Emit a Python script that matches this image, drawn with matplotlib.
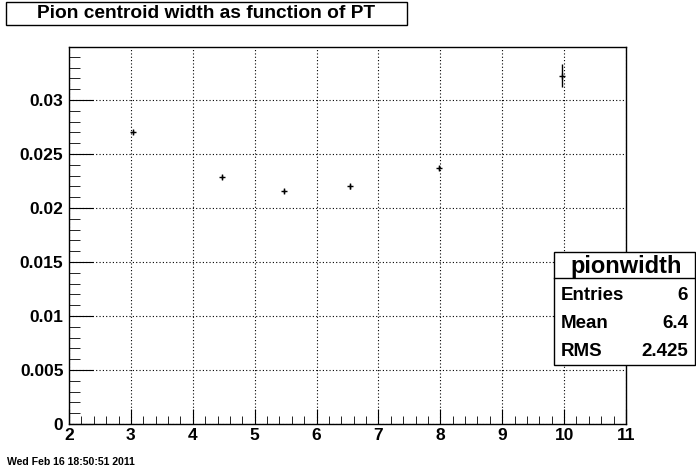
import matplotlib
matplotlib.use('Agg')
import matplotlib.pyplot as plt
from matplotlib.patches import Rectangle
from matplotlib.ticker import MultipleLocator, FuncFormatter

# pion centroid width vs PT
pt = [3.04, 4.48, 5.47, 6.54, 7.98, 9.96]
width = [0.02706, 0.02284, 0.0216, 0.0220, 0.02373, 0.03222]
width_err = [0.0002, 0.0002, 0.0002, 0.0002, 0.0002, 0.00106]

stats_name = 'pionwidth'
stats_rows = [('Entries', '6'), ('Mean', '6.4'), ('RMS', '2.425')]
title = 'Pion centroid width as function of PT'
datestamp = 'Wed Feb 16 18:50:51 2011'

plt.rcParams['font.family'] = ['Liberation Sans', 'DejaVu Sans']
plt.rcParams['font.weight'] = 'bold'

W, H = 696, 472
fig = plt.figure(figsize=(W / 100, H / 100), dpi=100)

def fx(x):
    return x / W

def fy(y):
    return 1 - y / H

left, right, top, bottom = 69, 626, 47, 424
ax = fig.add_axes([fx(left), fy(bottom), fx(right - left), (bottom - top) / H])

ax.errorbar(pt, width, yerr=width_err, fmt='+', color='black', ms=5,
            mew=1, elinewidth=1, capsize=0)

ax.set_xlim(2, 11)
ax.set_ylim(0, 0.0349)
ax.xaxis.set_major_locator(MultipleLocator(1))
ax.xaxis.set_minor_locator(MultipleLocator(0.2))
ax.yaxis.set_major_locator(MultipleLocator(0.005))
ax.yaxis.set_minor_locator(MultipleLocator(0.001))
ax.yaxis.set_major_formatter(FuncFormatter(lambda v, p: '%g' % round(v, 4)))
ax.xaxis.set_major_formatter(FuncFormatter(lambda v, p: '%g' % v))

ax.tick_params(which='both', direction='in', top=False, right=False,
               labelsize=12.5, color='black')
ax.tick_params(axis='y', which='major', length=17, pad=4)
ax.tick_params(axis='y', which='minor', length=8)
ax.tick_params(axis='x', which='major', length=11, pad=3)
ax.tick_params(axis='x', which='minor', length=6)
for lab in ax.get_xticklabels() + ax.get_yticklabels():
    lab.set_fontweight('bold')

ax.grid(True, which='major', linestyle=(0, (1, 2)), color='black', linewidth=0.8)
for s in ax.spines.values():
    s.set_linewidth(1)

# title box
fig.add_artist(Rectangle((fx(6), fy(25)), fx(401), 23 / H, transform=fig.transFigure,
                         fill=False, edgecolor='black', linewidth=1))
fig.text(fx(206), fy(14), title, ha='center', va='center', fontsize=13.8,
         fontweight='bold')

# stats box
fig.add_artist(Rectangle((fx(554), fy(365)), fx(141), 113 / H, transform=fig.transFigure,
                         facecolor='white', edgecolor='black', linewidth=1, zorder=5))
fig.add_artist(plt.Line2D([fx(554), fx(695)], [fy(278), fy(278)],
                          transform=fig.transFigure, color='black', linewidth=1, zorder=6))
fig.text(fx(626), fy(266), stats_name, ha='center', va='center', fontsize=17,
         fontweight='bold', zorder=7)
for i, (name, val) in enumerate(stats_rows):
    yy = fy(295 + i * 28.5)
    fig.text(fx(561), yy, name, ha='left', va='center', fontsize=13.5,
             fontweight='bold', zorder=7)
    fig.text(fx(688), yy, val, ha='right', va='center', fontsize=13.5,
             fontweight='bold', zorder=7)

fig.text(fx(7), fy(462), datestamp, ha='left', va='center', fontsize=7.6,
         fontweight='bold')

fig.savefig('out.png', dpi=100)
